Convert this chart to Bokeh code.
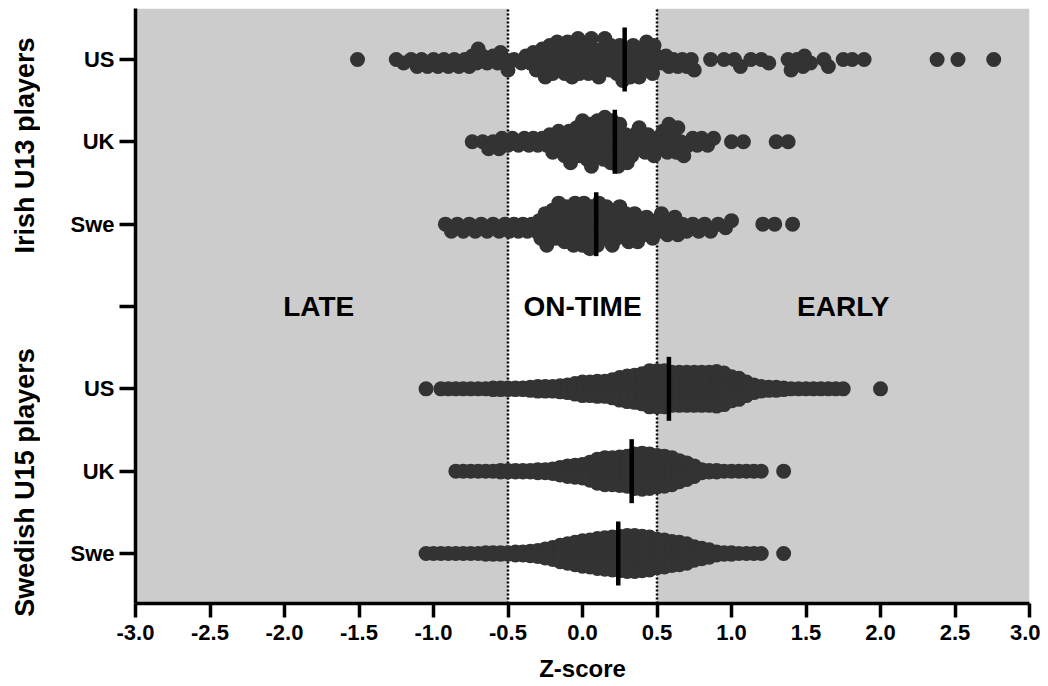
import math
from bokeh.plotting import figure
from bokeh.layouts import row
from bokeh.models import FixedTicker, PrintfTickFormatter, Range1d
from bokeh.core.properties import value
from bokeh.embed import file_html
from bokeh.resources import INLINE

# ---------------- data ----------------
row_labels = ["Swe", "UK", "US", "", "Swe", "UK", "US"]   # y = 0..6 (bottom -> top)
group_labels = ["Irish U13 players", "Swedish U15 players"]
zone_labels = ["LATE", "ON-TIME", "EARLY"]
zone_centers = [-1.77, 0.0, 1.75]

# Irish U13 players: individual z-scores
irish_us = [-1.51, -1.25, -1.20, -1.15, -1.11, -1.08, -1.04, -1.00, -0.97, -0.93,
            -0.90, -0.86, -0.83, -0.79, -0.76, -0.74, -0.71, -0.70, -0.67, -0.64,
            -0.60, -0.57, -0.55, -0.52, -0.50, -0.46, -0.41,
            -0.38, -0.35, -0.33, -0.31, -0.29, -0.27, -0.26, -0.25, -0.24, -0.22,
            -0.21, -0.20, -0.18, -0.17, -0.16, -0.14, -0.13, -0.12, -0.10, -0.09,
            -0.08, -0.07, -0.05, -0.04, -0.03, -0.02, 0.00, 0.01, 0.02, 0.04, 0.05,
            0.06, 0.07, 0.09, 0.10, 0.11, 0.13, 0.14, 0.15, 0.17, 0.18, 0.19, 0.21,
            0.22, 0.23, 0.25, 0.26, 0.27, 0.28, 0.30, 0.31, 0.32, 0.34, 0.35, 0.36,
            0.38, 0.39, 0.40, 0.42, 0.43, 0.44, 0.46, 0.47, 0.48, 0.50,
            0.53, 0.56, 0.58, 0.61, 0.64, 0.67, 0.70, 0.73, 0.75, 0.86, 0.95, 1.02,
            1.06, 1.13, 1.20, 1.25, 1.38, 1.40, 1.44, 1.48, 1.49, 1.53, 1.62, 1.65,
            1.75, 1.81, 1.89, 2.38, 2.52, 2.76]
irish_uk = [-0.74, -0.67, -0.63, -0.60, -0.56, -0.54, -0.50, -0.47, -0.43, -0.39,
            -0.36, -0.33, -0.30, -0.27, -0.24, -0.22,
            -0.20, -0.18, -0.16, -0.15, -0.13, -0.12, -0.10, -0.09, -0.08, -0.06,
            -0.05, -0.04, -0.02, -0.01, 0.00, 0.01, 0.02, 0.03, 0.04, 0.05, 0.06,
            0.07, 0.08, 0.09, 0.10, 0.11, 0.12, 0.13, 0.14, 0.15, 0.16, 0.17, 0.18,
            0.19, 0.20, 0.21, 0.22, 0.23, 0.24, 0.25, 0.26, 0.28, 0.29, 0.30, 0.32,
            0.33, 0.35, 0.36, 0.38, 0.40, 0.42, 0.44, 0.46, 0.48, 0.50,
            0.52, 0.54, 0.55, 0.57, 0.58, 0.60, 0.61, 0.63, 0.64, 0.66, 0.68, 0.71,
            0.74, 0.77, 0.80, 0.84, 0.88, 1.00, 1.08, 1.30, 1.38]
irish_swe = [-0.92, -0.88, -0.84, -0.80, -0.76, -0.72, -0.68, -0.64, -0.60, -0.56,
             -0.52, -0.49, -0.46, -0.43, -0.40, -0.37, -0.34, -0.31, -0.29, -0.28,
             -0.26, -0.25, -0.24, -0.22, -0.21, -0.20, -0.18, -0.17, -0.16, -0.14,
             -0.13, -0.12, -0.11, -0.09, -0.08, -0.07, -0.06, -0.05, -0.03, -0.02,
             -0.01, 0.00, 0.01, 0.02, 0.03, 0.04, 0.05, 0.06, 0.07, 0.08, 0.09,
             0.10, 0.11, 0.12, 0.13, 0.14, 0.16, 0.17, 0.18, 0.19, 0.20, 0.22, 0.23,
             0.24, 0.25, 0.27, 0.28, 0.29, 0.31, 0.33, 0.34, 0.35, 0.37, 0.39, 0.41,
             0.43, 0.45, 0.47, 0.49,
             0.51, 0.53, 0.55, 0.57, 0.60, 0.62, 0.64, 0.67, 0.70, 0.74, 0.78, 0.82,
             0.86, 0.91, 0.96, 1.00, 1.21, 1.29, 1.41]

# Swedish U15 players: dense rows, read as counts per 0.05-wide z-score bin
swe_bins = [round(-1.05 + 0.05 * i, 2) for i in range(62)]   # -1.05 .. 2.00
swe15_us_counts = [1, 0, 1, 1, 1, 1, 1, 1, 1, 2, 2, 2, 2, 2, 3, 4, 4, 4, 5, 6, 8,
                   10, 10, 11, 11, 13, 16, 18, 19, 21, 25, 25, 25, 23, 23, 23, 23,
                   23, 23, 24, 22, 17, 15, 10, 6, 4, 3, 3, 2, 1, 1, 1, 1, 1, 1, 1,
                   1, 0, 0, 0, 0, 1]
swe15_uk_counts = [0, 0, 0, 0, 1, 1, 1, 1, 1, 1, 2, 2, 2, 2, 2, 3, 3, 4, 6, 8, 9,
                   10, 13, 17, 19, 19, 20, 21, 24, 25, 24, 22, 21, 19, 15, 12, 8,
                   3, 2, 2, 1, 1, 1, 1, 1, 1, 0, 0, 1, 0, 0, 0, 0, 0, 0, 0, 0, 0,
                   0, 0, 0, 0]
swe15_swe_counts = [1, 1, 1, 1, 1, 1, 1, 1, 2, 2, 2, 2, 3, 3, 4, 5, 7, 9, 12, 14,
                    16, 18, 19, 21, 22, 23, 24, 25, 25, 24, 23, 20, 19, 17, 16, 14,
                    10, 8, 6, 3, 2, 2, 1, 1, 1, 1, 0, 0, 1, 0, 0, 0, 0, 0, 0, 0, 0,
                    0, 0, 0, 0, 0]

medians = [0.283, 0.217, 0.092, 0.58, 0.33, 0.24]   # Irish US, UK, Swe, Swedish US, UK, Swe
row_y = [6, 5, 4, 2, 1, 0]

# ---------------- layout ----------------
LW = 40                      # strip holding the rotated group titles
W, H = 1000, 686
BL, BR, BT, BB = 95, 11, 8, 83
FW, FH = W - BL - BR, H - BT - BB
Y0, Y1 = -0.607, 6.619
PX_X = FW / 6.0
PX_Y = FH / (Y1 - Y0)
FONT = "Liberation Sans"


def swarm(vals, dmin=8.0, step=3.5):
    placed, xs, ys = [], [], []
    for v in sorted(vals):
        xp = v * PX_X
        k = 0
        while True:
            off = ((k + 1) // 2) * step * (1 if k % 2 == 1 else -1) if k else 0.0
            ok = True
            for (px, py) in placed:
                if abs(xp - px) < dmin and (xp - px) ** 2 + (off - py) ** 2 < dmin ** 2:
                    ok = False
                    break
            if ok:
                break
            k += 1
        placed.append((xp, off))
        xs.append(v)
        ys.append(off)
    return xs, ys


def columns(bins, counts, dy=1.5):
    xs, ys = [], []
    for b, n in zip(bins, counts):
        for j in range(n):
            xs.append(b)
            ys.append((j - (n - 1) / 2.0) * dy)
    return xs, ys


yr = Range1d(Y0, Y1)
p = figure(width=W, height=H, x_range=(-3, 3), y_range=yr,
           output_backend="svg", toolbar_location=None,
           min_border_left=BL, min_border_right=BR, min_border_top=BT,
           min_border_bottom=BB)
p.outline_line_color = None
p.grid.grid_line_color = None
p.background_fill_color = "white"
p.frame_align = False

# shaded zones
p.quad(left=[-3, 0.5], right=[-0.5, 3], bottom=Y0, top=Y1,
       fill_color="#cccccc", line_color=None)
p.segment(x0=[-0.5, 0.5], y0=[Y0, Y0], x1=[-0.5, 0.5], y1=[Y1, Y1],
          line_color="black", line_width=2.5, line_dash="2 2")

DOT = "#333333"
rows = [swarm(irish_us), swarm(irish_uk), swarm(irish_swe),
        columns(swe_bins, swe15_us_counts), columns(swe_bins, swe15_uk_counts),
        columns(swe_bins, swe15_swe_counts)]
for (xs, ys), yc in zip(rows, row_y):
    p.scatter(xs, [yc - o / PX_Y for o in ys], size=15, fill_color=DOT,
              line_color=None)

half = 32 / PX_Y
p.segment(x0=medians, y0=[y - half for y in row_y], x1=medians,
          y1=[y + half for y in row_y], line_color="black", line_width=4.5)

p.text(x=zone_centers, y=[3] * 3, text=zone_labels, text_font=value(FONT),
       text_font_style="bold", text_font_size="28px", text_align="center",
       text_baseline="middle", text_color="black")

# axes
xa = p.xaxis[0]
xa.ticker = FixedTicker(ticks=[-3 + 0.5 * i for i in range(13)])
xa.formatter = PrintfTickFormatter(format="%.1f")
xa.axis_label = "Z-score"
ya = p.yaxis[0]
ya.ticker = FixedTicker(ticks=list(range(7)))
ya.major_label_overrides = {i: row_labels[i] for i in range(7)}
for ax in (xa, ya):
    ax.axis_line_width = 3.5
    ax.axis_line_color = "black"
    ax.major_tick_line_width = 3.5
    ax.major_tick_line_color = "black"
    ax.major_tick_in = 0
    ax.minor_tick_line_color = None
    ax.major_label_text_font = FONT
    ax.major_label_text_font_style = "bold"
    ax.major_label_text_color = "black"
    ax.axis_label_text_font = FONT
    ax.axis_label_text_font_style = "bold"
    ax.axis_label_text_color = "black"
xa.major_tick_out = 14
ya.major_tick_out = 16
xa.major_label_text_font_size = "22px"
xa.major_label_standoff = 7
xa.axis_label_text_font_size = "24px"
xa.axis_label_standoff = 12
ya.major_label_text_font_size = "22px"
ya.major_label_standoff = 5

# left strip with the rotated group titles (pixel coordinates, y down)
g = figure(width=LW, height=H, x_range=(0, LW), y_range=(H, 0),
           output_backend="svg", toolbar_location=None,
           x_axis_type=None, y_axis_type=None,
           min_border_left=0, min_border_right=0, min_border_top=0,
           min_border_bottom=0)
g.outline_line_color = None
g.grid.grid_line_color = None
g.frame_align = False
g.text(x=[24, 24], y=[145, 482], text=group_labels, angle=math.pi / 2,
       text_font=value(FONT), text_font_style="bold", text_font_size="27px",
       text_align="center", text_baseline="middle", text_color="black")

layout = row(g, p, spacing=0)
open("out.html", "w").write(file_html(layout, INLINE))
